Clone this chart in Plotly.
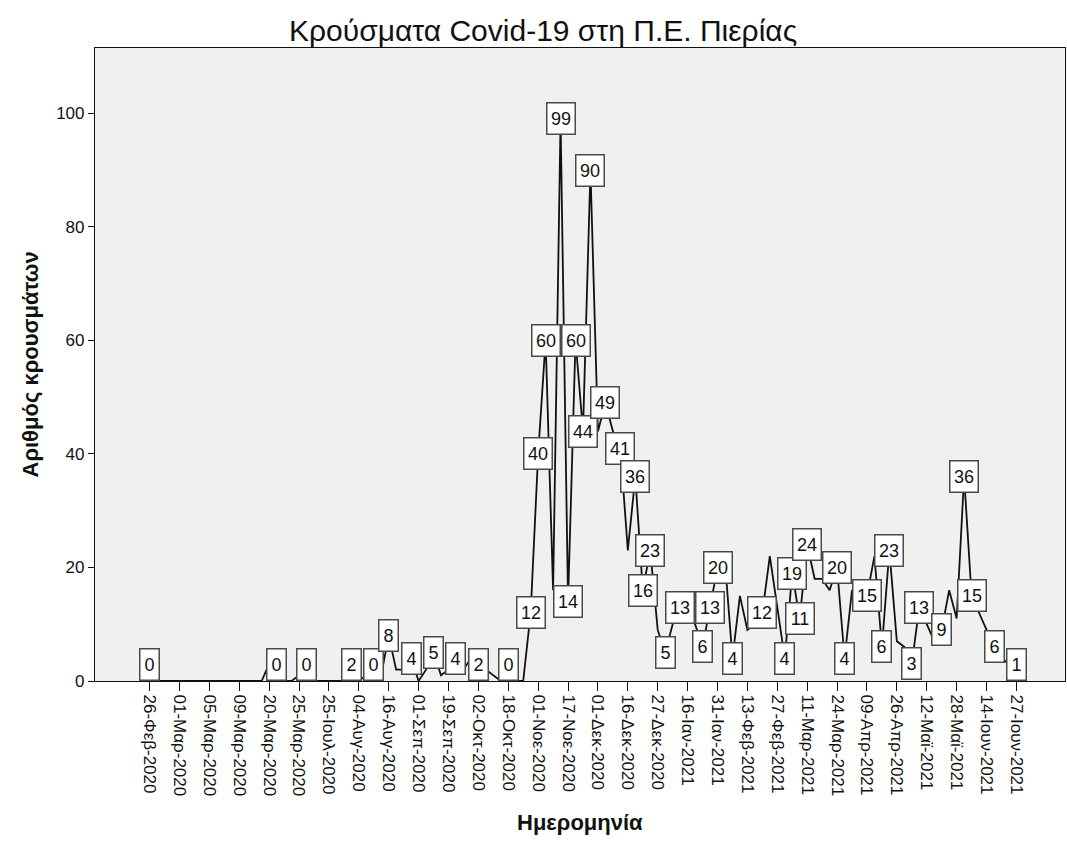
import plotly.graph_objects as go

# daily cases, one entry per category on the x axis (SPSS style categorical axis)
cases = [
    0, 0, 0, 0, 0, 0, 0, 0, 0, 0,
    0, 0, 0, 0, 0, 0, 3, 0, 0, 0,
    1, 0, 0, 0, 0, 0, 0, 2, 0, 1,
    0, 1, 8, 2, 2, 4, 0, 2, 5, 1,
    2, 4, 2, 4, 2, 2, 1, 0, 0, 0,
    0, 12, 40, 60, 16, 99, 14, 60, 44, 90,
    44, 49, 44, 41, 23, 36, 16, 23, 9, 5,
    10, 13, 12, 10, 6, 13, 20, 21, 4, 15,
    9, 10, 12, 22, 13, 4, 19, 11, 24, 18,
    18, 16, 20, 4, 16, 15, 15, 22, 6, 23,
    7, 6, 3, 13, 10, 7, 9, 16, 11, 36,
    15, 12, 9, 6, 4, 3, 1,
]

# points that carry a value label in the original chart
label_idx = [
    0, 17, 21, 27, 30, 32, 35, 38, 41, 44, 48, 51, 52, 53, 55, 56, 57, 58,
    59, 61, 63, 65, 66, 67, 69, 71, 74, 75, 76, 78, 82, 85, 86, 87, 88, 92,
    93, 96, 98, 99, 102, 103, 106, 109, 110, 113, 116,
]

# one tick label every 4 categories
tick_labels = [
    "26-Φεβ-2020", "01-Μαρ-2020", "05-Μαρ-2020", "09-Μαρ-2020", "20-Μαρ-2020",
    "25-Μαρ-2020", "25-Ιουλ-2020", "04-Αυγ-2020", "16-Αυγ-2020", "01-Σεπ-2020",
    "19-Σεπ-2020", "02-Οκτ-2020", "18-Οκτ-2020", "01-Νοε-2020", "17-Νοε-2020",
    "01-Δεκ-2020", "16-Δεκ-2020", "27-Δεκ-2020", "16-Ιαν-2021", "31-Ιαν-2021",
    "13-Φεβ-2021", "27-Φεβ-2021", "11-Μαρ-2021", "24-Μαρ-2021", "09-Απρ-2021",
    "26-Απρ-2021", "12-Μαϊ-2021", "28-Μαϊ-2021", "14-Ιουν-2021", "27-Ιουν-2021",
]
TICK_STEP = 4
y_ticks = [0, 20, 40, 60, 80, 100]

FONT = "Liberation Sans, Arial, sans-serif"
INK = "#111111"
LABEL_FLOOR = 2.9  # labels near zero are lifted so the box sits on the axis

x = list(range(len(cases)))

fig = go.Figure()
fig.add_trace(go.Scatter(
    x=x, y=cases, mode="lines",
    line=dict(color=INK, width=1.8),
    hoverinfo="skip", showlegend=False,
))

for i in label_idx:
    v = cases[i]
    txt = str(v)
    fig.add_annotation(
        x=i, y=max(v, LABEL_FLOOR), xref="x", yref="y",
        text=txt, showarrow=False,
        font=dict(family=FONT, size=18, color=INK),
        bgcolor="white", bordercolor="#4a4a4a", borderwidth=1.5,
        borderpad=2, width=9 * len(txt) + 5, height=26,
        xanchor="center", yanchor="middle",
    )

# axis titles as paper annotations (plot area: x 95..1065, y 48..681 px)
fig.add_annotation(
    text="Αριθμός κρουσμάτων", textangle=-90,
    x=(30 - 95) / 970, xref="paper", xanchor="center",
    y=0.5, yref="paper", yanchor="middle",
    showarrow=False, font=dict(family=FONT, size=22, color=INK, weight="bold"),
)
fig.add_annotation(
    text="Ημερομηνία",
    x=0.5, xref="paper", xanchor="center",
    y=(681 - 822) / 633, yref="paper", yanchor="middle",
    showarrow=False, font=dict(family=FONT, size=22, color=INK, weight="bold"),
)

fig.update_layout(
    width=1067, height=857,
    margin=dict(l=95, r=2, t=48, b=176),
    paper_bgcolor="white", plot_bgcolor="#f0f0f0",
    title=dict(
        text="Κρούσματα Covid-19 στη Π.Ε. Πιερίας",
        x=0.509, xref="container", xanchor="center",
        y=1 - 30 / 857, yref="container", yanchor="middle",
        font=dict(family=FONT, size=30, color=INK),
    ),
    font=dict(family=FONT, color=INK),
    showlegend=False,
)

fig.update_xaxes(
    range=[-7.3, 122.5],
    tickmode="array",
    tickvals=x[::TICK_STEP],
    ticktext=tick_labels,
    tickangle=90,
    tickfont=dict(family=FONT, size=17, color=INK),
    ticks="outside", ticklen=9, tickwidth=1.2, tickcolor=INK,
    showline=True, linecolor=INK, linewidth=1.2, mirror=True,
    showgrid=False, zeroline=False,
)
fig.update_yaxes(
    range=[0, 111.5],
    tickvals=y_ticks,
    tickfont=dict(family=FONT, size=17, color=INK),
    ticks="outside", ticklen=6, tickwidth=1.2, tickcolor=INK,
    showline=True, linecolor=INK, linewidth=1.2, mirror=True,
    showgrid=False, zeroline=False,
)

# drop the default 8px page margin so the figure sits at the window origin
fig.write_html(
    "out.html",
    config={"displayModeBar": False},
    post_script="document.body.style.margin = '0';",
)
